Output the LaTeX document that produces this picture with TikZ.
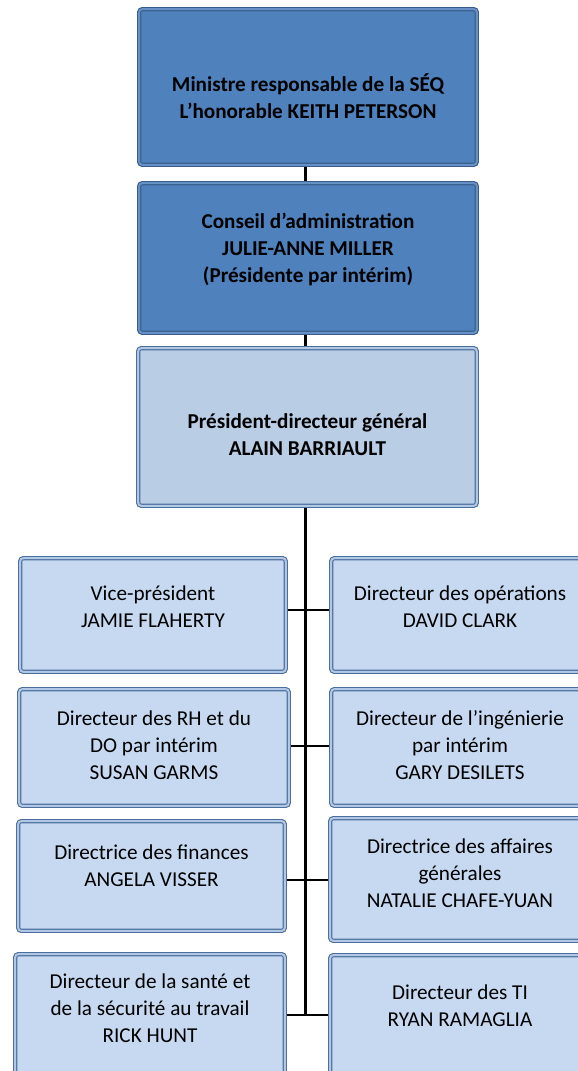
\documentclass[tikz,border=0pt]{standalone}
\usepackage{fontspec}
\setmainfont{Carlito}
\usetikzlibrary{backgrounds}
\definecolor{darkfill}{HTML}{4F81BD}
\definecolor{darkline}{HTML}{385D8A}
\definecolor{darkgap}{HTML}{6690C6}
\definecolor{midfill}{HTML}{B9CDE5}
\definecolor{lightfill}{HTML}{C6D9F1}
\definecolor{lightline}{HTML}{4A6E9E}
\definecolor{lightgap}{HTML}{B2C7E3}
\begin{document}
\begin{tikzpicture}[x=0.5pt,y=-0.5pt,
  boxbase/.style={rectangle, rounded corners=1.5pt, line width=0.55pt, double distance=1pt, inner sep=0pt},
  darkbox/.style={boxbase, draw=darkline, double=darkgap, fill=darkfill},
  midbox/.style={boxbase, draw=lightline, double=lightgap, fill=midfill},
  lightbox/.style={boxbase, draw=lightline, double=lightgap, fill=lightfill},
  txt/.style={align=center, inner sep=0pt, font=\fontsize{10.6}{13.5}\selectfont},
  btxt/.style={txt, font=\fontsize{10.6}{13.5}\selectfont\bfseries},
  conn/.style={line width=1.2pt, black}
]
\useasboundingbox (0,0) rectangle (578,1071);
\clip (0,0) rectangle (578,1071);

% boxes
\node[darkbox, minimum width=168.8pt, minimum height=77.8pt] (b1) at (308,87) {};
\node[darkbox, minimum width=168.8pt, minimum height=74.8pt] (b2) at (308,258) {};
\node[midbox, minimum width=169.3pt, minimum height=78.8pt] (b3) at (307.5,427) {};

\node[lightbox, minimum width=132.8pt, minimum height=56.8pt] (l1) at (153,615) {};
\node[lightbox, minimum width=133.3pt, minimum height=56.8pt] (r1) at (464.5,615) {};
\node[lightbox, minimum width=134.8pt, minimum height=58.3pt] (l2) at (154,747.5) {};
\node[lightbox, minimum width=133.3pt, minimum height=58.3pt] (r2) at (464.5,747.5) {};
\node[lightbox, minimum width=133.3pt, minimum height=54.8pt] (l3) at (151.5,876) {};
\node[lightbox, minimum width=133.8pt, minimum height=61.3pt] (r3) at (464,879.5) {};
\node[lightbox, minimum width=134.8pt, minimum height=66.8pt] (l4) at (150,1021) {};
\node[lightbox, minimum width=133.8pt, minimum height=66.3pt] (r4) at (464,1021.5) {};

% spine and junctions
\coordinate (s) at (305.5,0);
\coordinate (j1) at (305.5,610);
\coordinate (j2) at (305.5,746);
\coordinate (j3) at (305.5,880);
\coordinate (j4) at (305.5,1015);

\begin{scope}[on background layer]
\draw[conn] (b1.south -| s) -- (j4);
\draw[conn] (j1 -| l1.east) -- (j1 -| r1.west);
\draw[conn] (j2 -| l2.east) -- (j2 -| r2.west);
\draw[conn] (j3 -| l3.east) -- (j3 -| r3.west);
\draw[conn] (j4 -| l4.east) -- (j4 -| r4.west);
\end{scope}

% texts
\node[btxt] (t1) at (308,96) {Ministre responsable de la SÉQ\\L’honorable KEITH PETERSON};
\node[btxt] (t2) at (308,249.5) {Conseil d’administration\\JULIE-ANNE MILLER\\(Présidente par intérim)};
\node[btxt] (t3) at (307.5,435) {Président-directeur général\\ALAIN BARRIAULT};

\node[txt] (tl1) at (153,607) {Vice-président\\JAMIE FLAHERTY};
\node[txt] (tr1) at (460,607) {Directeur des opérations\\DAVID CLARK};
\node[txt] (tl2) at (154,745) {Directeur des RH et du\\DO par intérim\\SUSAN GARMS};
\node[txt] (tr2) at (460,745) {Directeur de l’ingénierie\\par intérim\\GARY DESILETS};
\node[txt] (tl3) at (151.5,866) {Directrice des finances\\ANGELA VISSER};
\node[txt] (tr3) at (460,873.5) {Directrice des affaires\\générales\\NATALIE CHAFE-YUAN};
\node[txt] (tl4) at (150,1008) {Directeur de la santé et\\de la sécurité au travail\\RICK HUNT};
\node[txt] (tr4) at (460,1006) {Directeur des TI\\RYAN RAMAGLIA};
\end{tikzpicture}
\end{document}
